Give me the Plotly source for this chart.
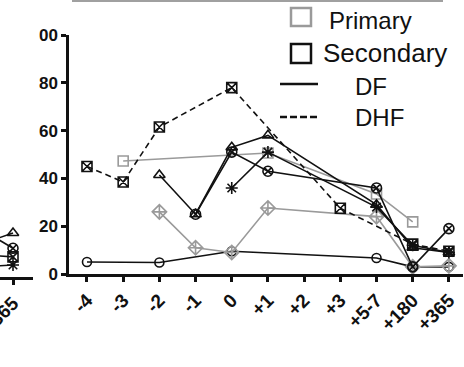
import plotly.graph_objects as go

# ---------------- data ----------------
days = ["-4", "-3", "-2", "-1", "0", "+1", "+2", "+3", "+5-7", "+180", "+365"]

# DHF, secondary (dashed, boxed X)
dhf_secondary = [45, 38.5, 61.5, None, 78, None, None, 27.5, None, 12.5, 9.5]
# Primary, DF (grey open squares)
primary_sq = [None, 47.3, None, None, None, 50.6, None, None, 33.5, 21.8, None]
# Primary, DF (grey crossed diamonds)
primary_dia = [None, None, 26, 11, 9, 27.6, None, None, 24, 3, 3.4]
# Secondary, DF (open circles)
sec_circle = [5, None, 4.8, None, 9.5, None, None, None, 6.7, 3, 3]
# Secondary, DF (open triangles)
sec_tri = [None, None, 41.4, 25, 53, 58, None, None, 29, 11, 9]
# Secondary, DF (circled X)
sec_cx = [None, None, None, 25, 51, 43, None, None, 36, 3, 19]
# Secondary, DF (asterisks)
sec_star = [None, None, None, None, 36, 51, None, None, 28, 12, 9]

y_ticks = [0, 20, 40, 60, 80, 100]
y_ticktext = ["0", "20", "40", "60", "80", "00"]

# neighbouring panel (only its last column is visible)
nb_x = [-20, 0]
nb_tri = [15.5, 18.4]
nb_cx = [17, 12]
nb_sq = [9, 8.4]
nb_star = [4.5, 5]
nb_tick = ["+365"]

# ---------------- styling ----------------
W, H = 464, 367
BLACK = "#111111"
GREY = "#9a9a9a"
FONT = "Arial, Liberation Sans, sans-serif"


def fx(px):
    return px / W


def fy(py):
    return 1 - py / H


fig = go.Figure()


def add(y, symbol, color, dash="solid", size=10, xaxis="x", yaxis="y", x=None):
    fig.add_trace(go.Scatter(
        x=x if x is not None else days, y=y, mode="lines+markers",
        connectgaps=True, xaxis=xaxis, yaxis=yaxis,
        line=dict(color=color, width=1.6, dash=dash),
        marker=dict(symbol=symbol, size=size, color=color,
                    line=dict(color=color, width=1.6)),
        showlegend=False,
    ))


add(sec_circle, "circle-open", BLACK, size=9)
add(primary_dia, "diamond-cross-open", GREY, size=11)
add(primary_sq, "square-open", GREY, size=10)
add(dhf_secondary, "square-x-open", BLACK, dash="6px,4px", size=10)
add(sec_tri, "triangle-up-open", BLACK, size=10)
add(sec_cx, "circle-x-open", BLACK, size=10)
add(sec_star, "asterisk-open", BLACK, size=10)

add(nb_tri, "triangle-up-open", BLACK, xaxis="x2", yaxis="y2", x=nb_x)
add(nb_cx, "circle-x-open", BLACK, xaxis="x2", yaxis="y2", x=nb_x)
add(nb_sq, "square-x-open", BLACK, xaxis="x2", yaxis="y2", x=nb_x)
add(nb_star, "asterisk-open", BLACK, xaxis="x2", yaxis="y2", x=nb_x)

xtickfont = dict(family=FONT, size=19, color=BLACK, weight="bold")
ytickfont = dict(family=FONT, size=17, color=BLACK, weight="bold")

fig.update_layout(
    width=W, height=H,
    margin=dict(l=0, r=0, t=0, b=0, autoexpand=False),
    paper_bgcolor="white", plot_bgcolor="rgba(0,0,0,0)",
    font=dict(family=FONT, color=BLACK),
    xaxis=dict(
        type="category", categoryorder="array", categoryarray=days,
        domain=[fx(69), fx(463)], range=[-0.497, 10.39],
        showline=True, linecolor=BLACK, linewidth=2.5,
        ticks="outside", ticklen=5, tickwidth=2.5, tickcolor=BLACK,
        tickangle=-45, tickfont=xtickfont, showgrid=False, zeroline=False,
        anchor="y", automargin=False, ticklabeloverflow="allow",
    ),
    yaxis=dict(
        domain=[fy(274), fy(35)], range=[0, 100],
        tickvals=y_ticks, ticktext=y_ticktext,
        showline=True, linecolor=BLACK, linewidth=2.5,
        ticks="outside", ticklen=5, tickwidth=2.5, tickcolor=BLACK,
        tickfont=ytickfont, showgrid=False, zeroline=False,
        anchor="x", automargin=False,
    ),
    xaxis2=dict(
        domain=[0, fx(33)], range=[-13, 20],
        tickvals=[0], ticktext=nb_tick,
        showline=True, linecolor=BLACK, linewidth=2.5,
        ticks="outside", ticklen=5, tickwidth=2.5, tickcolor=BLACK,
        tickangle=-45, tickfont=xtickfont, showgrid=False, zeroline=False,
        anchor="y2", automargin=False, ticklabeloverflow="allow",
    ),
    yaxis2=dict(
        domain=[fy(277), fy(35)], range=[0, 101.2], visible=False,
        anchor="x2", automargin=False,
    ),
)

shapes = [
    # grey rule at the very top
    dict(type="line", xref="paper", yref="paper", x0=fx(72), x1=fx(443),
         y0=fy(1), y1=fy(1), line=dict(color="#a0a0a0", width=2)),
    # legend symbols
    dict(type="rect", xref="paper", yref="paper", x0=fx(291), x1=fx(311),
         y0=fy(26), y1=fy(8), line=dict(color=GREY, width=2.5)),
    dict(type="rect", xref="paper", yref="paper", x0=fx(291), x1=fx(311),
         y0=fy(63), y1=fy(44), line=dict(color=BLACK, width=2.5)),
    dict(type="line", xref="paper", yref="paper", x0=fx(280), x1=fx(318),
         y0=fy(84), y1=fy(84), line=dict(color=BLACK, width=2.5)),
    dict(type="line", xref="paper", yref="paper", x0=fx(280), x1=fx(318),
         y0=fy(117), y1=fy(117), line=dict(color=BLACK, width=2.5, dash="7px,3px")),
]
fig.update_layout(shapes=shapes)

legend_text = [("Primary", 327, 20, 24), ("Secondary", 321, 53, 26),
               ("DF", 353, 86, 24), ("DHF", 353, 118, 24)]
for txt, x, y, s in legend_text:
    fig.add_annotation(xref="paper", yref="paper", x=fx(x), y=fy(y),
                       xanchor="left", yanchor="middle", text=txt,
                       showarrow=False,
                       font=dict(family=FONT, size=s, color=BLACK))

fig.write_html("out.html")
